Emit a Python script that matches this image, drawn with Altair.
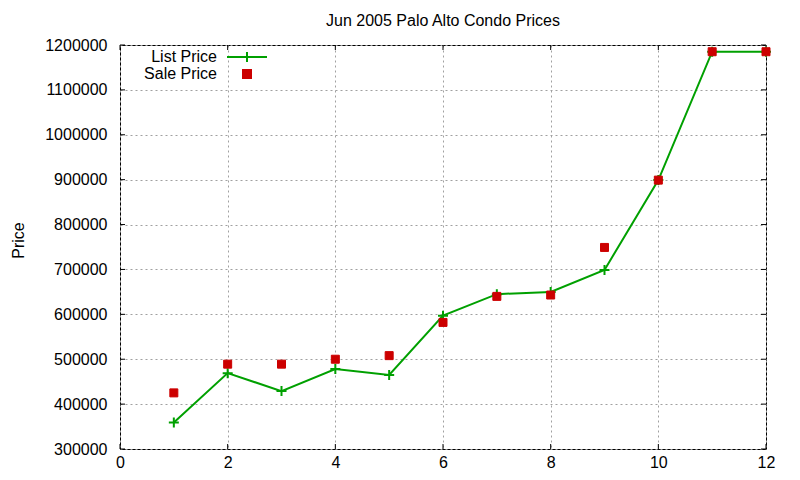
import altair as alt
import pandas as pd

months = [1, 2, 3, 4, 5, 6, 7, 8, 9, 10, 11, 12]
list_price = [359000, 469000, 429000, 478000, 465000, 597000,
              645000, 650000, 699000, 899000, 1185000, 1185000]
sale_price = [425000, 489000, 489000, 500000, 508000, 582000,
              640000, 643000, 749000, 899000, 1185000, 1185000]
series = ['List Price', 'Sale Price']
x_ticks = [0, 2, 4, 6, 8, 10, 12]
y_ticks = [300000, 400000, 500000, 600000, 700000, 800000,
           900000, 1000000, 1100000, 1200000]

W, H = 646, 404
GREEN, RED = '#00a000', '#cc0000'
FONT = 'Liberation Sans'
FS = 16

list_df = pd.DataFrame({'month': months, 'price': list_price})
sale_df = pd.DataFrame({'month': months, 'price': sale_price,
                        'series': 'Sale Price'})
xt_df = pd.DataFrame({'month': x_ticks})
yt_df = pd.DataFrame({'price': y_ticks})

x_axis = alt.Axis(values=x_ticks, grid=True, ticks=False, domain=False,
                  labelPadding=5, labelFlush=False, title=None)
y_axis = alt.Axis(values=y_ticks, grid=True, ticks=False, domain=False,
                  format='d', labelPadding=13, labelFlush=False,
                  title='Price', titleFontWeight='normal', titleAngle=270,
                  titleBaseline='alphabetic', titleAlign='center',
                  titleX=-97, titleY=195)
x_enc = alt.X('month:Q', scale=alt.Scale(domain=[0, 12], nice=False),
              axis=x_axis)
y_enc = alt.Y('price:Q', scale=alt.Scale(domain=[300000, 1200000],
                                          nice=False, zero=False),
              axis=y_axis)

# labels sit left of the symbols, as gnuplot draws its key
legend = alt.Legend(title=None, orient='none', legendX=119, legendY=4,
                    symbolSize=100, symbolStrokeWidth=2, padding=0,
                    labelAlign='right', labelOffset={'expr': '-38'},
                    rowPadding={'expr': '-4'}, labelFontSize=FS,
                    labelFont=FONT, labelColor='black')
shape_scale = alt.Scale(domain=series,
                        range=['M-4,0H4M0,-1V1', 'M-0.8,-0.8H0.8V0.8H-0.8Z'])
color_scale = alt.Scale(domain=series, range=[GREEN, RED])

# gnuplot style inward ticks on all four sides
x_ticks_bottom = (alt.Chart(xt_df).mark_rule(color='black')
                  .encode(x=x_enc, y=alt.value(H), y2=alt.value(H - 5)))
x_ticks_top = (alt.Chart(xt_df).mark_rule(color='black')
               .encode(x=x_enc, y=alt.value(0), y2=alt.value(5)))
y_ticks_left = (alt.Chart(yt_df).mark_rule(color='black')
                .encode(y=y_enc, x=alt.value(0), x2=alt.value(5)))
y_ticks_right = (alt.Chart(yt_df).mark_rule(color='black')
                 .encode(y=y_enc, x=alt.value(W - 5), x2=alt.value(W)))

list_line = (alt.Chart(list_df).mark_line(color=GREEN, strokeWidth=2)
             .encode(x=x_enc, y=y_enc))
list_pts = (alt.Chart(list_df)
            .mark_point(shape='M-1,0H1M0,-1V1', size=100, stroke=GREEN,
                        strokeWidth=2, filled=False, opacity=1)
            .encode(x=x_enc, y=y_enc))
sale_pts = (alt.Chart(sale_df)
            .mark_point(size=100, filled=True, strokeWidth=1, opacity=1)
            .encode(x=x_enc, y=y_enc,
                    shape=alt.Shape('series:N', scale=shape_scale,
                                    legend=legend),
                    fill=alt.Fill('series:N', scale=color_scale,
                                  legend=legend),
                    stroke=alt.Stroke('series:N', scale=color_scale,
                                      legend=legend)))

chart = (alt.layer(x_ticks_bottom, x_ticks_top, y_ticks_left, y_ticks_right,
                   list_line, list_pts, sale_pts)
         .properties(width=W, height=H,
                     title=alt.Title('Jun 2005 Palo Alto Condo Prices',
                                     fontSize=FS, font=FONT,
                                     fontWeight='normal', color='black',
                                     frame='group', offset=8),
                     autosize=alt.AutoSizeParams(type='none'),
                     padding={'left': 112, 'top': 37, 'right': 26,
                              'bottom': 23})
         .configure_view(stroke='black', strokeWidth=1)
         .configure_axis(labelFont=FONT, labelFontSize=FS,
                         labelColor='black', titleFont=FONT,
                         titleFontSize=FS, titleColor='black',
                         gridColor='#a0a0a0', gridDash=[2, 3],
                         gridWidth=1, gridOpacity=1))

chart.save('out.html', embed_options={'renderer': 'svg', 'actions': False})
